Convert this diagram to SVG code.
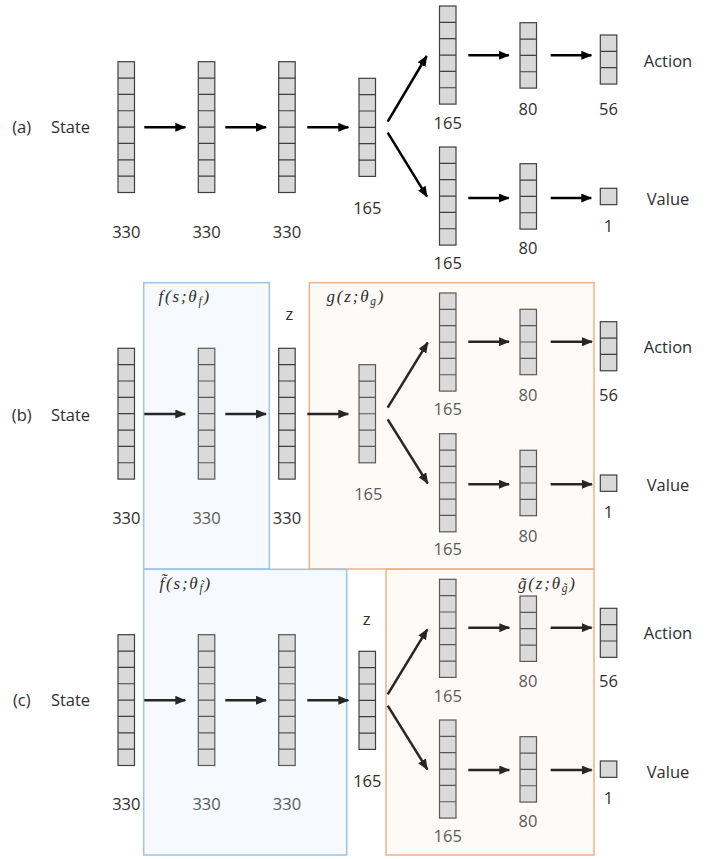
<svg xmlns="http://www.w3.org/2000/svg" xmlns:xlink="http://www.w3.org/1999/xlink" width="715" height="859" viewBox="0 0 715 859">
<style>
.L{fill:#d9d9d9;stroke:#3f3f3f;stroke-width:1.2}
.Li{fill:#dadada;stroke:#585858;stroke-width:1.2}
.t{font-family:"Open Sans","Noto Sans","DejaVu Sans",sans-serif;font-size:16.5px;fill:#2e2e2e;text-anchor:middle}
.ti{fill:#5a5a5a}
.m{font-family:"Liberation Serif","DejaVu Serif",serif;font-style:italic;font-size:17px;fill:#2e2e2e;letter-spacing:1.8px}
.a{stroke:#000;stroke-width:2.5;fill:none;marker-end:url(#ah)}
.a2{stroke:#262626;stroke-width:2.5;fill:none;marker-end:url(#ah2)}
.bb{fill:#f6f9fd;stroke:#9dc3e6;stroke-width:1.5}
.ob{fill:#fdfaf7;stroke:#f4b183;stroke-width:1.5}
</style>
<defs>
<marker id="ah" markerUnits="userSpaceOnUse" markerWidth="11" markerHeight="9" refX="10" refY="4.5" orient="auto"><path d="M0,0 L11,4.5 L0,9 z" fill="#000"/></marker>
<marker id="ah2" markerUnits="userSpaceOnUse" markerWidth="11" markerHeight="9" refX="10" refY="4.5" orient="auto"><path d="M0,0 L11,4.5 L0,9 z" fill="#262626"/></marker>
<g id="c8"><rect x="0" y="0" width="16.5" height="130.8"/><path d="M0 16.35h16.5M0 32.7h16.5M0 49.05h16.5M0 65.4h16.5M0 81.75h16.5M0 98.1h16.5M0 114.45h16.5"/></g>
<g id="c6"><rect x="0" y="0" width="16.5" height="98.1"/><path d="M0 16.35h16.5M0 32.7h16.5M0 49.05h16.5M0 65.4h16.5M0 81.75h16.5"/></g>
<g id="c4"><rect x="0" y="0" width="16.5" height="65.4"/><path d="M0 16.35h16.5M0 32.7h16.5M0 49.05h16.5"/></g>
<g id="c3"><rect x="0" y="0" width="16.5" height="49.05"/><path d="M0 16.35h16.5M0 32.7h16.5"/></g>
<g id="c1"><rect x="0" y="0" width="16.5" height="16.35"/></g>
</defs>

<g id="boxes">
<rect id="box-f" class="bb" x="143.7" y="282.7" width="125.6" height="286.3"/>
<rect id="box-g" class="ob" x="309.3" y="282.7" width="284.7" height="286.3"/>
<rect id="box-ft" class="bb" x="143.7" y="569.3" width="203" height="285.7"/>
<rect id="box-gt" class="ob" x="386" y="569.3" width="208" height="285.7"/>
</g>

<g id="panel-labels">
<text class="t" x="21.7" y="132.8">(a)</text><text class="t" x="70.5" y="132.8">State</text>
<text class="t" x="21.7" y="420.8">(b)</text><text class="t" x="70.5" y="420.8">State</text>
<text class="t" x="21.7" y="705.8">(c)</text><text class="t" x="70.5" y="705.8">State</text>
<text class="t" x="668" y="66.5">Action</text><text class="t" x="668" y="204.8">Value</text>
<text class="t" x="668" y="352.8">Action</text><text class="t" x="668" y="490.8">Value</text>
<text class="t" x="668" y="639.1">Action</text><text class="t" x="668" y="777.5">Value</text>
<text class="m" x="158.5" y="302">f(s;θ<tspan font-size="11.5" dy="3">f</tspan><tspan dy="-3">)</tspan></text>
<text class="m" x="326.5" y="302">g(z;θ<tspan font-size="11.5" dy="3">g</tspan><tspan dy="-3">)</tspan></text>
<text class="m" x="159.5" y="588.5">f̃(s;θ<tspan font-size="11.5" dy="3">f̃</tspan><tspan dy="-3">)</tspan></text>
<text class="m" x="518" y="588.5">g̃(z;θ<tspan font-size="11.5" dy="3">g̃</tspan><tspan dy="-3">)</tspan></text>
<text class="t" x="289.3" y="320.3">z</text>
<text class="t" x="366.7" y="624.6">z</text>
</g>

<!-- Panel (a) -->
<g id="a1"><use href="#c8" class="L" x="118" y="61.7"/><text class="t" x="126.3" y="237.7">330</text></g>
<g id="a2"><use href="#c8" class="L" x="198.3" y="61.7"/><text class="t" x="206.6" y="237.7">330</text></g>
<g id="a3"><use href="#c8" class="L" x="278.7" y="61.7"/><text class="t" x="287" y="237.7">330</text></g>
<g id="a4"><use href="#c6" class="L" x="359" y="78.3"/><text class="t" x="367.3" y="214">165</text></g>
<g id="a5u"><use href="#c6" class="L" x="439.5" y="6"/><text class="t" x="447.7" y="129">165</text></g>
<g id="a5l"><use href="#c6" class="L" x="439.5" y="147"/><text class="t" x="447.7" y="269">165</text></g>
<g id="a6u"><use href="#c4" class="L" x="520" y="22.7"/><text class="t" x="528" y="115">80</text></g>
<g id="a6l"><use href="#c4" class="L" x="520" y="163.7"/><text class="t" x="528" y="254">80</text></g>
<g id="a7u"><use href="#c3" class="L" x="600.3" y="35"/><text class="t" x="608.5" y="115">56</text></g>
<g id="a7l"><use href="#c1" class="L" x="600.3" y="188.3"/><text class="t" x="608.5" y="232">1</text></g>

<!-- Panel (b) -->
<g id="b1"><use href="#c8" class="L" x="118" y="348.3"/><text class="t" x="126.3" y="524.3">330</text></g>
<g id="b2"><use href="#c8" class="Li" x="198.3" y="348.3"/><text class="t ti" x="206.6" y="524.3">330</text></g>
<g id="b3"><use href="#c8" class="L" x="278.7" y="348.3"/><text class="t" x="287" y="524.3">330</text></g>
<g id="b4"><use href="#c6" class="Li" x="359" y="364.7"/><text class="t ti" x="368.3" y="500">165</text></g>
<g id="b5u"><use href="#c6" class="Li" x="439.5" y="293"/><text class="t ti" x="447.7" y="415.3">165</text></g>
<g id="b5l"><use href="#c6" class="Li" x="439.5" y="433.7"/><text class="t ti" x="447.7" y="555.3">165</text></g>
<g id="b6u"><use href="#c4" class="Li" x="520" y="309.3"/><text class="t ti" x="528" y="401">80</text></g>
<g id="b6l"><use href="#c4" class="Li" x="520" y="450.3"/><text class="t ti" x="528" y="541.7">80</text></g>
<g id="b7u"><use href="#c3" class="L" x="600.3" y="321.7"/><text class="t" x="608.5" y="401">56</text></g>
<g id="b7l"><use href="#c1" class="L" x="600.3" y="475"/><text class="t" x="608.5" y="518.3">1</text></g>

<!-- Panel (c) -->
<g id="c1n"><use href="#c8" class="L" x="118" y="634.7"/><text class="t" x="126.3" y="810.3">330</text></g>
<g id="c2n"><use href="#c8" class="Li" x="198.3" y="634.7"/><text class="t ti" x="206.6" y="810.3">330</text></g>
<g id="c3n"><use href="#c8" class="Li" x="278.7" y="634.7"/><text class="t ti" x="287" y="810.3">330</text></g>
<g id="c4n"><use href="#c6" class="L" x="359" y="651.3"/><text class="t" x="367.3" y="787">165</text></g>
<g id="c5u"><use href="#c6" class="Li" x="439.5" y="579.3"/><text class="t ti" x="447.7" y="702">165</text></g>
<g id="c5l"><use href="#c6" class="Li" x="439.5" y="720"/><text class="t ti" x="447.7" y="842">165</text></g>
<g id="c6u"><use href="#c4" class="Li" x="520" y="596"/><text class="t ti" x="528" y="687">80</text></g>
<g id="c6l"><use href="#c4" class="Li" x="520" y="736.7"/><text class="t ti" x="528" y="827">80</text></g>
<g id="c7u"><use href="#c3" class="L" x="600.3" y="608.3"/><text class="t" x="608.5" y="687">56</text></g>
<g id="c7l"><use href="#c1" class="L" x="600.3" y="761"/><text class="t" x="608.5" y="803.7">1</text></g>

<g id="connectors">
<path class="a" d="M144.3 127.3H185.3"/>
<path class="a" d="M225.3 127.3H266"/>
<path class="a" d="M307.3 127.3H348.3"/>
<path class="a" d="M387.7 121.7L426.7 56"/>
<path class="a" d="M387.7 132.7L427 196.7"/>
<path class="a" d="M468.3 55.3H508.7"/>
<path class="a" d="M550.7 55.3H591.3"/>
<path class="a" d="M468.3 198H508.7"/>
<path class="a" d="M550.7 198H591.3"/>

<path class="a2" d="M144.3 414H185.3"/>
<path class="a2" d="M225.3 414H266"/>
<path class="a2" d="M307.3 414H348.3"/>
<path class="a2" d="M387.7 407.7L427.7 342.7"/>
<path class="a2" d="M387.7 419.3L427.7 483.3"/>
<path class="a2" d="M468.3 341.7H509"/>
<path class="a2" d="M550.7 341.7H592"/>
<path class="a2" d="M468.3 484.3H509"/>
<path class="a2" d="M550.7 484.3H592"/>

<path class="a2" d="M144.3 700.3H185.3"/>
<path class="a2" d="M225.3 700.3H266"/>
<path class="a2" d="M307.3 700.3H348.3"/>
<path class="a2" d="M387.7 694.3L427.3 629.3"/>
<path class="a2" d="M387.7 705.7L427.3 769.3"/>
<path class="a2" d="M468.3 627.7H509.3"/>
<path class="a2" d="M550.7 627.7H591.7"/>
<path class="a2" d="M468.3 770H509.3"/>
<path class="a2" d="M550.7 770H591.7"/>
</g>
</svg>
